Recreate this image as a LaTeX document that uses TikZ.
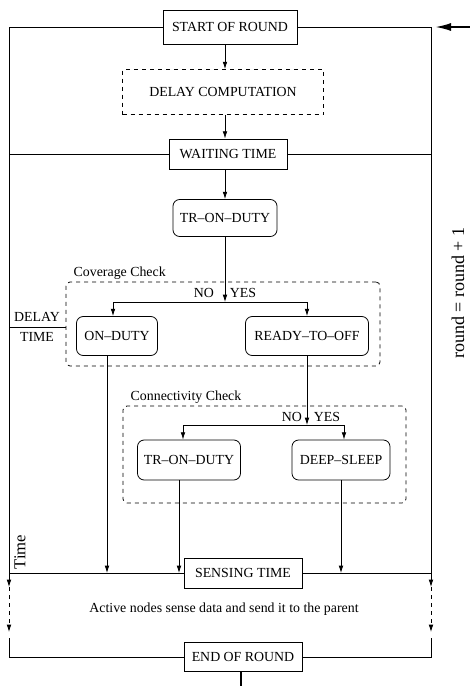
\documentclass[tikz,border=0pt]{standalone}
\usepackage{fontspec}
\setmainfont{Liberation Serif}
\usetikzlibrary{arrows.meta}
\tikzset{
  box/.style={draw,line width=0.6pt,inner sep=2pt},
  roundbox/.style={box,rounded corners=5pt},
  dashbox/.style={box,dashed},
  checkbox/.style={draw,dashed,line width=0.6pt,rounded corners=3pt},
  flow/.style={line width=0.6pt}
}

\begin{document}
\begin{tikzpicture}[x=0.75pt,y=-0.75pt,font=\fontsize{10.4}{12}\selectfont,
  >={Latex[length=5.5pt,width=3.5pt]}]
\useasboundingbox (0,0) rectangle (470,686);
\node[box,minimum width=100.5pt,minimum height=25.5pt] (start) at (230,27) {START OF ROUND};
\node[dashbox,minimum width=150.75pt,minimum height=33.75pt] (delay) at (223,92) {DELAY COMPUTATION};
\node[box,minimum width=88.5pt,minimum height=22.5pt] (wait) at (228,154) {WAITING TIME};
\node[roundbox,minimum width=78pt,minimum height=27.75pt] (tr1) at (225,218) {TR--ON--DUTY};
\node[checkbox,minimum width=235.5pt,minimum height=63pt] (cov) at (223,324) {};
\node[anchor=west] (covlabel) at (69,273) {Coverage Check};
\node[roundbox,minimum width=60.75pt,minimum height=29.25pt] (onduty) at (117,336) {ON--DUTY};
\node[roundbox,minimum width=92.25pt,minimum height=29.25pt] (ready) at (307,336) {READY--TO--OFF};
\node[checkbox,minimum width=212.25pt,minimum height=72.75pt] (con) at (264.5,454.5) {};
\node[anchor=west] (conlabel) at (126,397) {Connectivity Check};
\node[roundbox,minimum width=77.25pt,minimum height=30pt] (tr2) at (189,460) {TR--ON--DUTY};
\node[roundbox,minimum width=73.5pt,minimum height=30pt] (deep) at (341,460) {DEEP--SLEEP};
\node[box,minimum width=88.5pt,minimum height=22.5pt] (sense) at (243,573) {SENSING TIME};
\node (active) at (224,609) {Active nodes sense data and send it to the parent};
\node[box,minimum width=88.5pt,minimum height=21.75pt] (end) at (243,657) {END OF ROUND};
\node (no1) at (204,293) {NO};
\node (yes1) at (243,293) {YES};
\node (no2) at (292,417) {NO};
\node (yes2) at (327,417) {YES};
\node[align=center,font=\fontsize{10.4}{15}\selectfont] (dtime) at (37,327) {DELAY\\TIME};
\node[rotate=90,font=\fontsize{12.5}{14}\selectfont] (time) at (20,552) {Time};
\node[rotate=90,font=\fontsize{13.5}{16}\selectfont] (inc) at (458,293) {round = round + 1};
\coordinate (covsplit) at (225,302);
\coordinate (covL) at (113,302);
\coordinate (covR) at (307,302);
\coordinate (consplit) at (307,425);
\coordinate (conL) at (183,425);
\coordinate (conR) at (344,425);
\coordinate (dt) at (9,327);
\coordinate (wl) at (9,154);
\coordinate (wr) at (431,154);
\coordinate (sl) at (9,573);
\coordinate (sr) at (431,573);
\coordinate (al1) at (9,587);
\coordinate (al2) at (9,632);
\coordinate (al3) at (9,638);
\coordinate (ar1) at (431,587);
\coordinate (ar2) at (431,632);
\coordinate (ar3) at (431,638);
\coordinate (rin) at (470,27);
\coordinate (rout) at (241,686);
\draw[flow,->] (start.south -| tr1.north) -- (delay.north -| tr1.north);
\draw[flow,->] (delay.south -| tr1.north) -- (wait.north -| tr1.north);
\draw[flow,->] (wait.south -| tr1.north) -- (tr1.north);
\draw[flow,->] (tr1.south) -- (covsplit);
\draw[flow] (covL) -- (covR);
\draw[flow,->] (covL) -- (covL |- onduty.north);
\draw[flow,->] (covR) -- (ready.north);
\draw[flow,->] (ready.south) -- (consplit);
\draw[flow] (conL) -- (conR);
\draw[flow,->] (conL) -- (conL |- tr2.north);
\draw[flow,->] (conR) -- (conR |- deep.north);
\draw[flow] (start.west) -| (sl);
\draw[flow,->] (sl) -- (al1);
\draw[flow,dashed,->] (al1) -- (al2);
\draw[flow] (al3) |- (end.west);
\draw[flow] (start.east) -| (sr);
\draw[flow,->] (sr) -- (ar1);
\draw[flow,dashed,->] (ar1) -- (ar2);
\draw[flow] (ar3) |- (end.east);
\draw[flow] (wl) -- (wait.west);
\draw[flow] (wait.east) -- (wr);
\draw[flow] (sl) -- (sense.west);
\draw[flow] (sense.east) -- (sr);
\draw[flow] (dt) -- (dt -| cov.west);
\draw[flow,->] ([xshift=-7.5pt]onduty.south) -- ([xshift=-7.5pt]onduty.south |- sl);
\draw[flow,->] ([xshift=-7.5pt]tr2.south) -- ([xshift=-7.5pt]tr2.south |- sl);
\draw[flow,->] (deep.south) -- (deep.south |- sl);
\draw[line width=1.5pt,-{Latex[length=12pt,width=6pt]}] (rin) -- ([xshift=3pt]start.east -| sr);
\draw[line width=1.2pt] (end.south -| rout) -- (rout);
\end{tikzpicture}
\end{document}
